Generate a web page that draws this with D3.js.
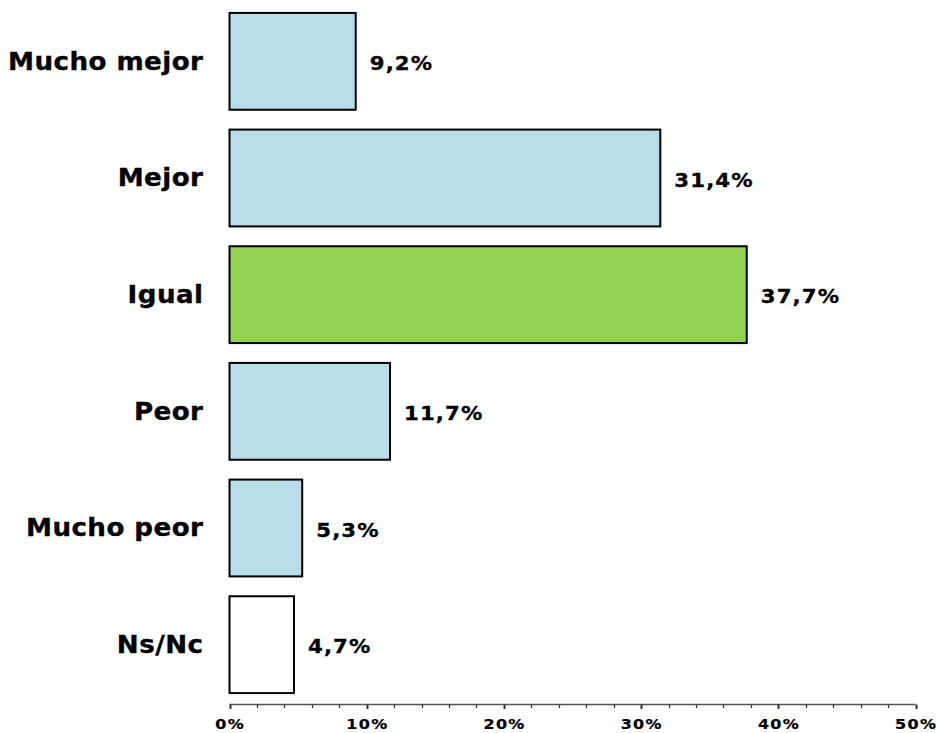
<!DOCTYPE html>
<html><head><meta charset="utf-8">
<script src="https://cdn.jsdelivr.net/npm/d3@7"></script>
<style>body{margin:0;background:#fff}svg{display:block}</style>
</head><body>
<svg id="c" width="939" height="733"></svg>
<script>
const categories = ["Mucho mejor","Mejor","Igual","Peor","Mucho peor","Ns/Nc"];
const values = [9.2, 31.4, 37.7, 11.7, 5.3, 4.7];
const colors = ["#b8dde6","#b8dde6","#92d050","#b8dde6","#b8dde6","#ffffff"];
const tickValues = [0,10,20,30,40,50];
const minorTicks = d3.range(0, 51, 2);

const svg = d3.select("#c");
const font = "'DejaVu Sans', Verdana, sans-serif";
const x = d3.scaleLinear().domain([0,50]).range([229.5, 915.5]);
const y = d3.scaleBand().domain(categories).range([3, 703]).paddingInner(0.17).paddingOuter(0.085);

svg.selectAll("rect.bar").data(categories).join("rect")
  .attr("class","bar")
  .attr("x", x(0))
  .attr("y", d => y(d))
  .attr("width", (d,i) => x(values[i]) - x(0))
  .attr("height", y.bandwidth())
  .attr("fill", (d,i) => colors[i])
  .attr("stroke", "#000").attr("stroke-width", 2);

const catLS = 0.4, catSX = 1.09;
svg.selectAll("text.cat").data(categories).join("text")
  .attr("class","cat")
  .attr("transform", d => `translate(${203 + catLS * catSX},${y(d) + y.bandwidth()/2 + 8.3}) scale(${catSX},1)`)
  .attr("text-anchor","end")
  .attr("font-family", font).attr("font-weight","bold").attr("font-size", 24)
  .attr("letter-spacing", catLS)
  .attr("fill","#000").attr("stroke","#000").attr("stroke-width",0.35)
  .text(d => d);

const valSX = 1.12;
svg.selectAll("text.val").data(categories).join("text")
  .attr("class","val")
  .attr("transform", (d,i) => `translate(${x(values[i]) + 14},${y(d) + y.bandwidth()/2 + 8.7}) scale(${valSX},1)`)
  .attr("font-family", font).attr("font-weight","bold").attr("font-size", 19)
  .attr("letter-spacing", 1.0)
  .attr("fill","#000").attr("stroke","#000").attr("stroke-width",0.3)
  .text((d,i) => values[i].toFixed(1).replace(".", ",") + "%");

// axis
const axisY = 704.5;
const g = svg.append("g").attr("transform", `translate(0,${axisY})`);
g.append("line").attr("x1", x(0)).attr("x2", x(50)).attr("stroke","#555").attr("stroke-width",1.5);
g.selectAll("line.minor").data(minorTicks).join("line")
  .attr("class","minor")
  .attr("x1", d => Math.round(x(d))+0.5).attr("x2", d => Math.round(x(d))+0.5)
  .attr("y1", 0).attr("y2", d => d % 10 === 0 ? 4.5 : 3.5)
  .attr("stroke", "#333").attr("stroke-width", d => d % 10 === 0 ? 2 : 1.2);
const tickLS = 1.2, tickSX = 1.1;
g.selectAll("text.tick").data(tickValues).join("text")
  .attr("class","tick")
  .attr("transform", d => `translate(${x(d) + tickLS * tickSX / 2},24.8) scale(${tickSX},1)`)
  .attr("text-anchor","middle")
  .attr("font-family", font).attr("font-weight","bold").attr("font-size", 14.5)
  .attr("letter-spacing", tickLS)
  .attr("fill","#000").attr("stroke","#000").attr("stroke-width",0.25)
  .text(d => d + "%");
</script>
</body></html>
